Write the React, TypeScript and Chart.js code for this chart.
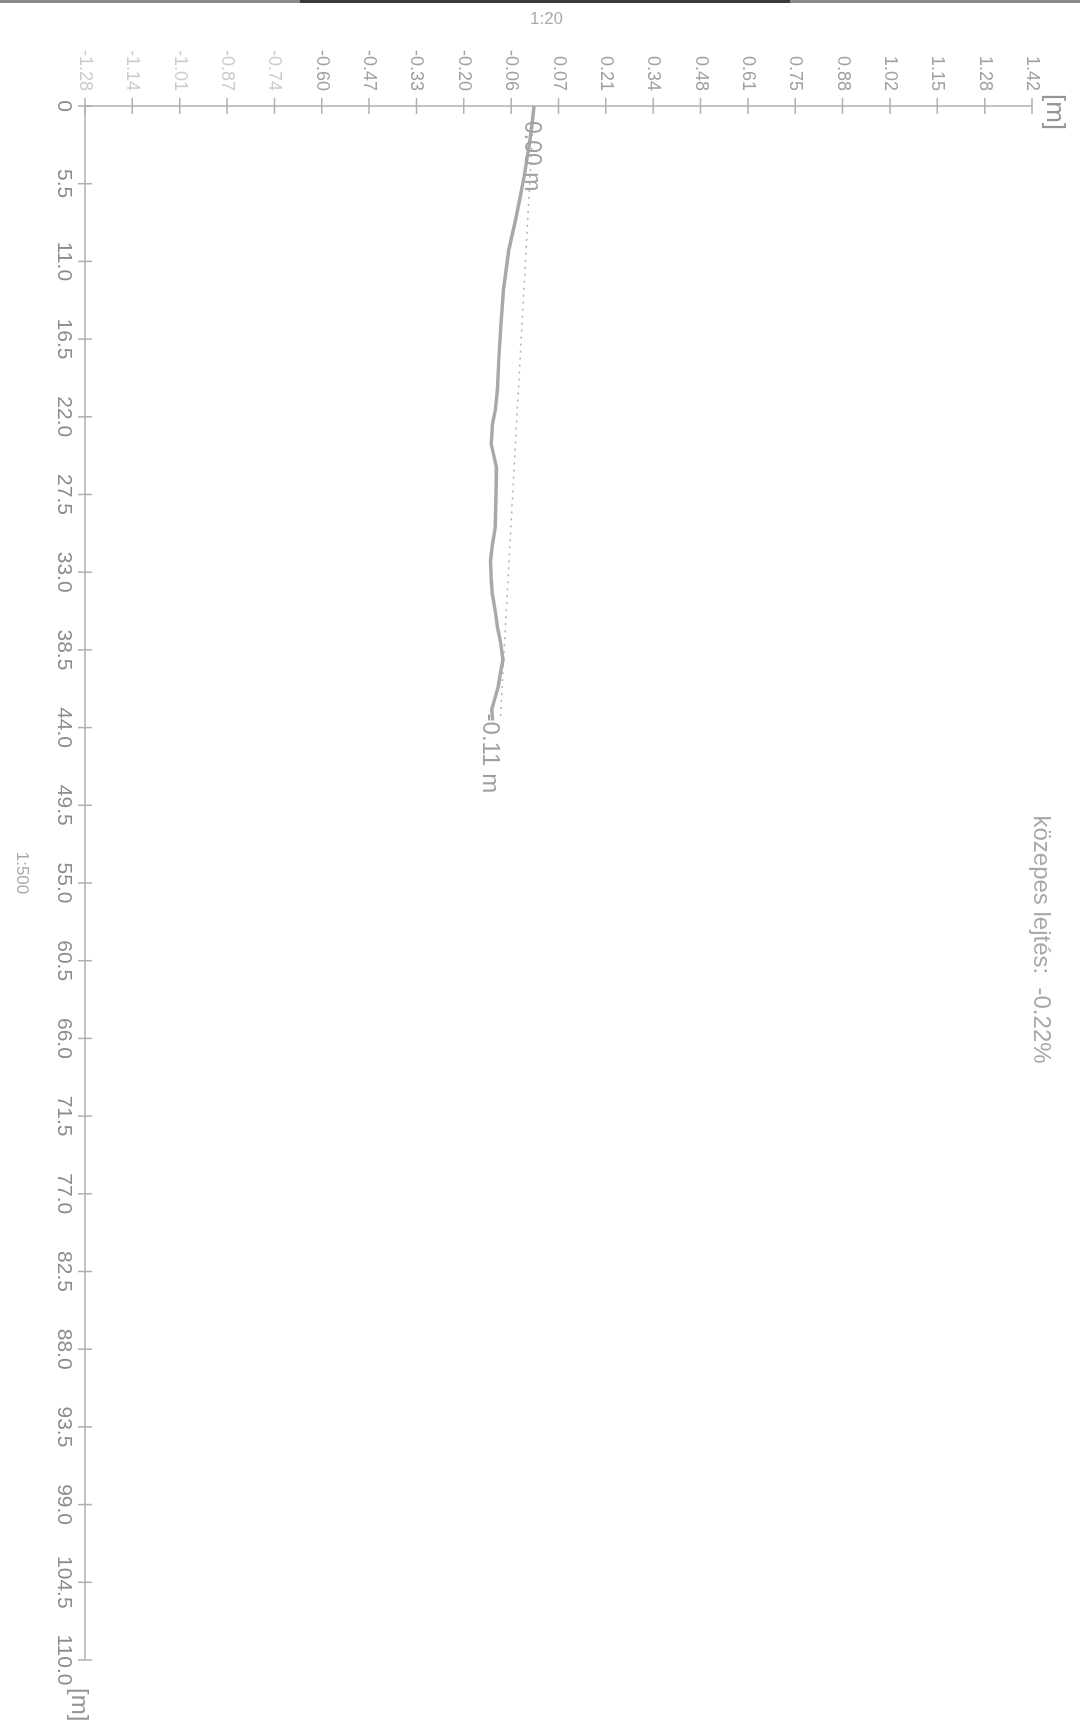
import React, { useEffect, useRef } from 'react';
import { Chart, registerables } from 'chart.js';

Chart.register(...registerables);

// page (portrait) and the landscape chart that is turned 90° clockwise onto it
const PAGE_W = 1080;
const PAGE_H = 1729;
const CW = PAGE_H;
const CH = PAGE_W;

// profile: distance along the line [m] and relative elevation [m]
const DIST = [0, 1.0, 2.5, 5.0, 6.5, 8.0, 10.2, 13.0, 15.4, 17.8, 20.0, 21.5, 22.5, 23.9, 25.0, 25.6, 27.5, 29.8, 31.0, 32.2, 33.5, 34.5, 35.8, 36.9, 38.0, 39.2, 40.2, 41.1, 42.0, 42.7, 43.5];
const ELEV = [0.0, -0.004, -0.012, -0.028, -0.040, -0.052, -0.072, -0.087, -0.094, -0.100, -0.104, -0.110, -0.118, -0.122, -0.112, -0.107, -0.108, -0.110, -0.118, -0.124, -0.122, -0.119, -0.110, -0.104, -0.095, -0.088, -0.096, -0.102, -0.112, -0.120, -0.118];

// mean slope line (dotted)
const AVG_DIST = [0, 43.5];
const AVG_ELEV = [0.0, -0.096];

// axes
const DIST_MIN = 0;
const DIST_MAX = 110;
const DIST_TICKS = [0, 5.5, 11, 16.5, 22, 27.5, 33, 38.5, 44, 49.5, 55, 60.5, 66, 71.5, 77, 82.5, 88, 93.5, 99, 104.5, 110];
const ELEV_MIN = -1.28;
const ELEV_MAX = 1.42;
const ELEV_TICKS = [-1.28, -1.145, -1.01, -0.875, -0.74, -0.605, -0.47, -0.335, -0.2, -0.065, 0.07, 0.205, 0.34, 0.475, 0.61, 0.745, 0.88, 1.015, 1.15, 1.285, 1.42];
const ELEV_TICK_LABELS = ['-1.28', '-1.14', '-1.01', '-0.87', '-0.74', '-0.60', '-0.47', '-0.33', '-0.20', '-0.06', '0.07', '0.21', '0.34', '0.48', '0.61', '0.75', '0.88', '1.02', '1.15', '1.28', '1.42'];

// texts
const X_TITLE = '1:500';
const Y_TITLE = '1:20';
const UNIT = '[m]';
const START_LABEL = '0.00 m';
const END_LABEL = '-0.11 m';
const SLOPE_TEXT = 'közepes lejtés:  -0.22%';
const SLOPE_TEXT_AT = 59.0;

const FONT = '"Liberation Sans", Arial, sans-serif';

const overlay = {
  id: 'overlay',
  beforeDraw(chart: any) {
    const { ctx, width, height } = chart;
    ctx.save();
    ctx.fillStyle = '#ffffff';
    ctx.fillRect(0, 0, width, height);
    // scanner edge along the top of the page
    ctx.fillStyle = '#8a8a8a';
    ctx.fillRect(0, 0, 3, height);
    ctx.fillStyle = '#3a3a3a';
    ctx.fillRect(0, 290, 3, 490);
    ctx.restore();
  },
  beforeDatasetsDraw(chart: any) {
    const { ctx, chartArea: a, scales } = chart;
    const xs = scales.x;
    const ys = scales.y;
    ctx.save();
    ctx.strokeStyle = '#b0b0b0';
    ctx.lineWidth = 1.5;
    ctx.beginPath();
    ctx.moveTo(a.left, ys.getPixelForValue(ELEV_MAX));
    ctx.lineTo(a.left, ys.getPixelForValue(ELEV_MIN));
    ctx.moveTo(xs.getPixelForValue(DIST_MIN), a.bottom);
    ctx.lineTo(xs.getPixelForValue(DIST_MAX), a.bottom);
    ctx.stroke();
    ctx.beginPath();
    ELEV_TICKS.forEach((v) => {
      const y = ys.getPixelForValue(v);
      ctx.moveTo(a.left - 8, y);
      ctx.lineTo(a.left + 8, y);
    });
    DIST_TICKS.forEach((v) => {
      const x = xs.getPixelForValue(v);
      ctx.moveTo(x, a.bottom - 7);
      ctx.lineTo(x, a.bottom + 7);
    });
    ctx.stroke();
    ctx.restore();
  },
  afterDatasetsDraw(chart: any) {
    const { ctx, chartArea: a, scales } = chart;
    const xs = scales.x;
    const ys = scales.y;
    ctx.save();
    // elevation tick labels
    ctx.font = `18px ${FONT}`;
    ctx.textAlign = 'right';
    ctx.textBaseline = 'middle';
    ELEV_TICKS.forEach((v, i) => {
      ctx.fillStyle = i < 5 ? '#cccccc' : '#a0a0a0';
      ctx.fillText(ELEV_TICK_LABELS[i], a.left - 15, ys.getPixelForValue(v));
    });
    // distance tick labels
    ctx.font = `21px ${FONT}`;
    ctx.textAlign = 'center';
    ctx.textBaseline = 'top';
    ctx.fillStyle = '#8c8c8c';
    DIST_TICKS.forEach((v) => {
      ctx.fillText(v === 0 ? '0' : v.toFixed(1), xs.getPixelForValue(v), a.bottom + 11);
    });
    // units
    ctx.fillStyle = '#959595';
    ctx.font = `26px ${FONT}`;
    ctx.textAlign = 'center';
    ctx.textBaseline = 'middle';
    ctx.fillText(UNIT, a.left + 6, a.top - 22);
    ctx.font = `24px ${FONT}`;
    ctx.textAlign = 'left';
    ctx.fillText(UNIT, xs.getPixelForValue(DIST_MAX) + 28, a.bottom + 6);
    // axis titles
    ctx.fillStyle = '#aaaaaa';
    ctx.font = `17px ${FONT}`;
    ctx.textAlign = 'center';
    ctx.textBaseline = 'middle';
    ctx.fillText(X_TITLE, (a.left + a.right) / 2 - 10, a.bottom + 63);
    ctx.save();
    ctx.translate(19.5, (a.top + a.bottom) / 2 + 12);
    ctx.rotate(-Math.PI / 2);
    ctx.fillText(Y_TITLE, 0, 0);
    ctx.restore();
    // start / end labels of the profile
    ctx.fillStyle = '#a0a0a0';
    ctx.textAlign = 'left';
    ctx.textBaseline = 'alphabetic';
    ctx.font = `23px ${FONT}`;
    ctx.fillText(START_LABEL, xs.getPixelForValue(DIST[0]) + 15, ys.getPixelForValue(ELEV[0]) + 9);
    const n = DIST.length - 1;
    ctx.font = `24px ${FONT}`;
    ctx.fillText(END_LABEL, xs.getPixelForValue(DIST[n]) - 7, ys.getPixelForValue(ELEV[n]) + 10);
    // mean slope text
    ctx.fillStyle = '#a8a8a8';
    ctx.font = `24px ${FONT}`;
    ctx.textAlign = 'center';
    ctx.textBaseline = 'middle';
    ctx.fillText(SLOPE_TEXT, xs.getPixelForValue(SLOPE_TEXT_AT), a.top - 9);
    ctx.restore();
  },
};

export default function App() {
  const canvasRef = useRef<HTMLCanvasElement | null>(null);

  useEffect(() => {
    const canvas = canvasRef.current;
    if (!canvas) return;
    const chart = new Chart(canvas, {
      type: 'scatter',
      data: {
        datasets: [
          {
            label: 'profil',
            data: DIST.map((d, i) => ({ x: d, y: ELEV[i] })),
            showLine: true,
            borderColor: '#a9a9a9',
            borderWidth: 3.5,
            pointRadius: 0,
            tension: 0,
            fill: false,
          },
          {
            label: 'közepes lejtés',
            data: AVG_DIST.map((d, i) => ({ x: d, y: AVG_ELEV[i] })),
            showLine: true,
            borderColor: '#b0b0b0',
            borderWidth: 1.5,
            borderDash: [2, 5],
            pointRadius: 0,
            fill: false,
          },
        ],
      },
      options: {
        animation: false,
        responsive: false,
        devicePixelRatio: 1,
        layout: { padding: { left: 106, right: CW - 1660, top: 48, bottom: CH - 995 } },
        plugins: { legend: { display: false }, tooltip: { enabled: false } },
        scales: {
          x: { type: 'linear', min: DIST_MIN, max: DIST_MAX, display: false },
          y: { type: 'linear', min: ELEV_MIN, max: ELEV_MAX, display: false },
        },
      },
      plugins: [overlay],
    } as any);
    return () => chart.destroy();
  }, []);

  return (
    <div style={{ position: 'absolute', left: 0, top: 0, width: PAGE_W, height: PAGE_H, overflow: 'hidden', background: '#ffffff' }}>
      <div
        style={{
          position: 'absolute',
          left: 0,
          top: 0,
          width: CW,
          height: CH,
          transformOrigin: '0 0',
          transform: `translate(${PAGE_W}px, 0px) rotate(90deg)`,
        }}
      >
        <canvas ref={canvasRef} width={CW} height={CH} style={{ display: 'block', width: CW, height: CH }} />
      </div>
    </div>
  );
}
